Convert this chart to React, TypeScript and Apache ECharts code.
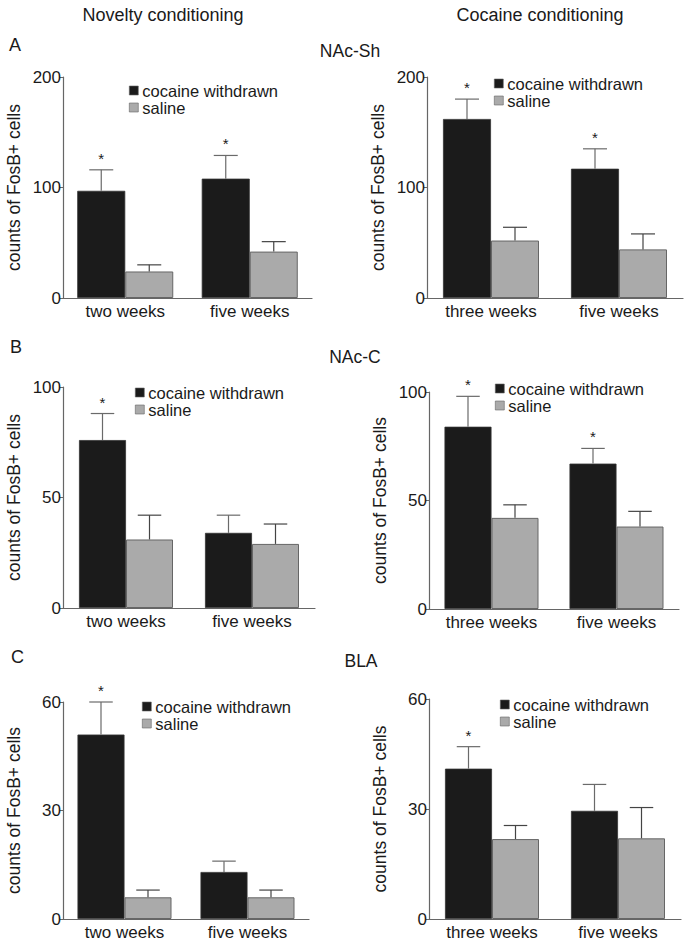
import React, { useEffect, useRef } from "react";
import * as echarts from "echarts";

const FONT = "'Liberation Sans', Arial, Helvetica, sans-serif";

const legendNames = ["cocaine withdrawn", "saline"];
const catsNovelty = ["two weeks", "five weeks"];
const catsCocaine = ["three weeks", "five weeks"];

// Panel A: NAc-Sh
const aNovCoc = [97, 108];
const aNovCocErr = [19, 21];
const aNovSal = [24, 42];
const aNovSalErr = [6, 9];
const aNovSig = [1, 1];
const aCocCoc = [162, 117];
const aCocCocErr = [18, 18];
const aCocSal = [52, 44];
const aCocSalErr = [12, 14];
const aCocSig = [1, 1];

// Panel B: NAc-C
const bNovCoc = [76, 34];
const bNovCocErr = [12, 8];
const bNovSal = [31, 29];
const bNovSalErr = [11, 9];
const bNovSig = [1, 0];
const bCocCoc = [84, 67];
const bCocCocErr = [14, 7];
const bCocSal = [42, 38];
const bCocSalErr = [6, 7];
const bCocSig = [1, 1];

// Panel C: BLA
const cNovCoc = [51, 13];
const cNovCocErr = [9, 3];
const cNovSal = [6, 6];
const cNovSalErr = [2, 2];
const cNovSig = [1, 0];
const cCocCoc = [41, 29.5];
const cCocCocErr = [6, 7.2];
const cCocSal = [21.8, 22];
const cCocSalErr = [3.7, 8.4];
const cCocSig = [1, 0];

const yMaxA = 200, yIntA = 100;
const yMaxB = 100, yIntB = 50;
const yMaxC = 60, yIntC = 30;

type Panel = {
  cats: string[];
  coc: number[]; cocErr: number[]; sal: number[]; salErr: number[]; sig: number[];
  max: number; interval: number;
  grid: { left: number; top: number; width: number; height: number };
  barWidth: number;
  legend: { left: number; top: number };
};

const panels: Panel[] = [
  { cats: catsNovelty, coc: aNovCoc, cocErr: aNovCocErr, sal: aNovSal, salErr: aNovSalErr, sig: aNovSig,
    max: yMaxA, interval: yIntA, grid: { left: 63, top: 77, width: 249, height: 221 }, barWidth: 48,
    legend: { left: 129, top: 82 } },
  { cats: catsCocaine, coc: aCocCoc, cocErr: aCocCocErr, sal: aCocSal, salErr: aCocSalErr, sig: aCocSig,
    max: yMaxA, interval: yIntA, grid: { left: 427, top: 77, width: 256, height: 221 }, barWidth: 48,
    legend: { left: 494, top: 75 } },
  { cats: catsNovelty, coc: bNovCoc, cocErr: bNovCocErr, sal: bNovSal, salErr: bNovSalErr, sig: bNovSig,
    max: yMaxB, interval: yIntB, grid: { left: 63, top: 387, width: 252, height: 221 }, barWidth: 47,
    legend: { left: 135, top: 384 } },
  { cats: catsCocaine, coc: bCocCoc, cocErr: bCocCocErr, sal: bCocSal, salErr: bCocSalErr, sig: bCocSig,
    max: yMaxB, interval: yIntB, grid: { left: 429, top: 392, width: 250, height: 217 }, barWidth: 47,
    legend: { left: 495, top: 380 } },
  { cats: catsNovelty, coc: cNovCoc, cocErr: cNovCocErr, sal: cNovSal, salErr: cNovSalErr, sig: cNovSig,
    max: yMaxC, interval: yIntC, grid: { left: 63, top: 702, width: 246, height: 217 }, barWidth: 47,
    legend: { left: 142, top: 698 } },
  { cats: catsCocaine, coc: cCocCoc, cocErr: cCocCocErr, sal: cCocSal, salErr: cCocSalErr, sig: cCocSig,
    max: yMaxC, interval: yIntC, grid: { left: 429, top: 699, width: 252, height: 220 }, barWidth: 47,
    legend: { left: 500, top: 696 } },
];

const BLACK = "#1b1b1b";
const GRAY = "#aaaaaa";
const AXIS = "#666666";
const TEXT = "#1a1a1a";

function errorSeries(p: Panel, i: number, vals: number[], errs: number[], sig: number[] | null, side: number, color: string) {
  const data = vals.map((v, k) => [k, v, errs[k], sig ? sig[k] : 0]);
  return {
    type: "custom",
    xAxisIndex: i,
    yAxisIndex: i,
    z: 5,
    silent: true,
    data,
    renderItem: (params: any, api: any) => {
      const k = api.value(0);
      const v = api.value(1);
      const e = api.value(2);
      const s = api.value(3);
      const base = api.coord([k, v]);
      const top = api.coord([k, v + e]);
      const x = base[0] + side * p.barWidth / 2;
      const half = p.barWidth / 4;
      const children: any[] = [
        { type: "line", shape: { x1: x, y1: base[1], x2: x, y2: top[1] }, style: { stroke: color, lineWidth: 1.2 } },
        { type: "line", shape: { x1: x - half, y1: top[1], x2: x + half, y2: top[1] }, style: { stroke: color, lineWidth: 1.2 } },
      ];
      if (s) {
        children.push({
          type: "text",
          style: { text: "*", x, y: top[1] - 4, textAlign: "center", textVerticalAlign: "bottom", fontSize: 15, fontFamily: FONT, fill: TEXT },
        });
      }
      return { type: "group", children };
    },
  };
}

function buildOption() {
  const grid: any[] = [];
  const xAxis: any[] = [];
  const yAxis: any[] = [];
  const series: any[] = [];
  const legend: any[] = [];
  panels.forEach((p, i) => {
    grid.push({ ...p.grid, containLabel: false });
    xAxis.push({
      type: "category",
      gridIndex: i,
      data: p.cats,
      axisLine: { lineStyle: { color: AXIS, width: 1.2 } },
      axisTick: { show: false },
      axisLabel: { color: TEXT, fontSize: 17, fontFamily: FONT, margin: 5 },
    });
    yAxis.push({
      type: "value",
      gridIndex: i,
      min: 0,
      max: p.max,
      interval: p.interval,
      name: "counts of FosB+ cells",
      nameLocation: "middle",
      nameGap: 40,
      nameTextStyle: { color: TEXT, fontSize: 17.5, fontFamily: FONT },
      splitLine: { show: false },
      axisLine: { show: true, lineStyle: { color: AXIS, width: 1.2 } },
      axisTick: { show: true, length: 3, lineStyle: { color: AXIS } },
      axisLabel: { color: TEXT, fontSize: 17, fontFamily: FONT, margin: 2 },
    });
    series.push({
      type: "bar",
      name: legendNames[0],
      xAxisIndex: i,
      yAxisIndex: i,
      data: p.coc,
      barWidth: p.barWidth,
      barGap: "0%",
      itemStyle: { color: BLACK, borderColor: "#333", borderWidth: 0.8 },
    });
    series.push({
      type: "bar",
      name: legendNames[1],
      xAxisIndex: i,
      yAxisIndex: i,
      data: p.sal,
      barWidth: p.barWidth,
      barGap: "0%",
      itemStyle: { color: GRAY, borderColor: "#666", borderWidth: 1 },
    });
    series.push(errorSeries(p, i, p.coc, p.cocErr, p.sig, -1, "#6a6a6a"));
    series.push(errorSeries(p, i, p.sal, p.salErr, null, 1, "#444444"));
    legend.push({
      data: legendNames,
      orient: "vertical",
      left: p.legend.left,
      top: p.legend.top,
      padding: 0,
      itemGap: 0,
      itemWidth: 9,
      itemHeight: 9,
      icon: "rect",
      selectedMode: false,
      itemStyle: { borderWidth: 0.6, borderColor: "#666" },
      textStyle: { color: TEXT, fontSize: 16.5, fontFamily: FONT, lineHeight: 17, padding: [0, 0, 0, -1] },
    });
  });

  const txt = (text: string, x: number, y: number, align = "center", size = 17.5) => ({
    type: "text",
    x,
    y,
    style: { text, textAlign: align, textVerticalAlign: "middle", fontSize: size, fontFamily: FONT, fill: TEXT },
  });

  return {
    animation: false,
    backgroundColor: "#ffffff",
    grid,
    xAxis,
    yAxis,
    series,
    legend,
    graphic: [
      txt("Novelty conditioning", 163, 15, "center", 18),
      txt("Cocaine conditioning", 540, 15, "center", 18),
      txt("A", 9, 45, "left", 18),
      txt("NAc-Sh", 350, 51),
      txt("B", 10, 347, "left", 18),
      txt("NAc-C", 355, 357),
      txt("C", 11, 657, "left", 18),
      txt("BLA", 361, 661),
    ],
  };
}

export default function App() {
  const ref = useRef<HTMLDivElement>(null);
  useEffect(() => {
    if (!ref.current) return;
    const chart = echarts.init(ref.current, undefined, { renderer: "svg" });
    chart.setOption(buildOption() as any);
    return () => chart.dispose();
  }, []);
  return <div ref={ref} style={{ position: "absolute", left: 0, top: 0, width: 696, height: 946 }} />;
}
